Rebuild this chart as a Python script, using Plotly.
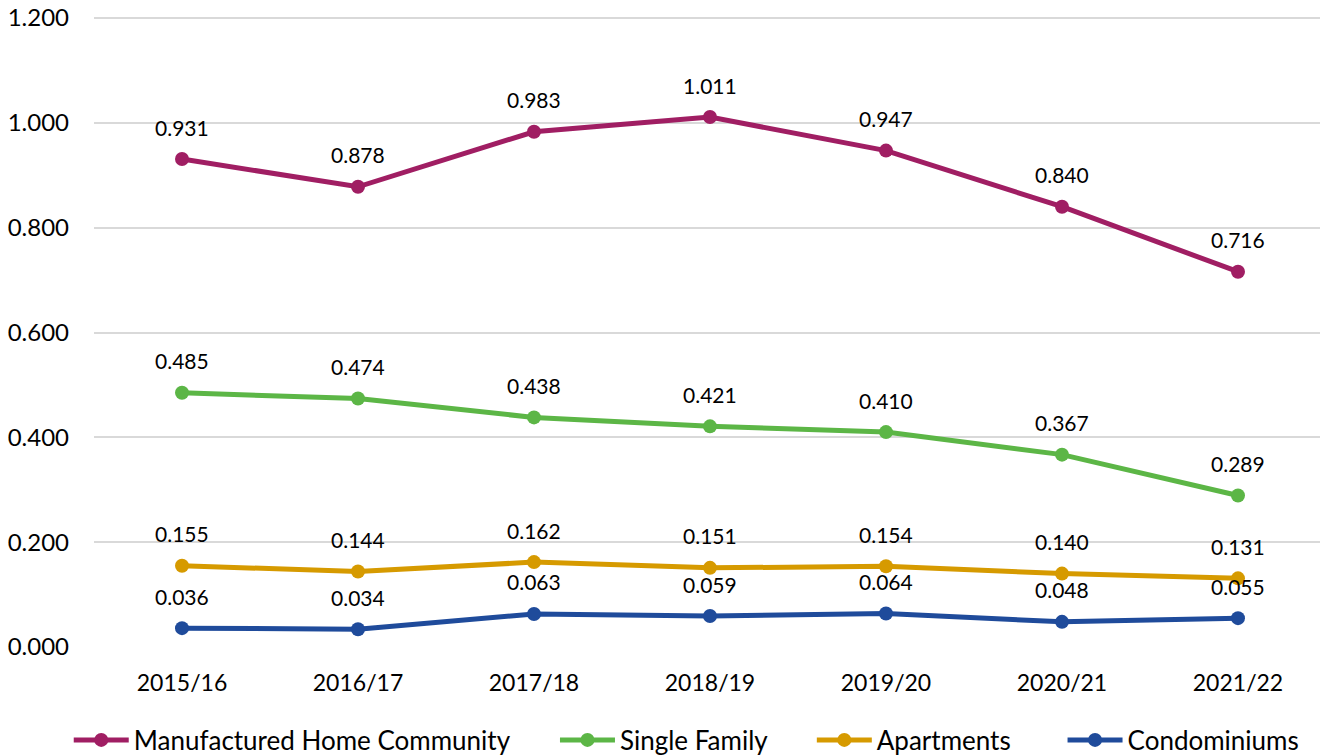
import plotly.graph_objects as go

years = ["2015/16", "2016/17", "2017/18", "2018/19", "2019/20", "2020/21", "2021/22"]
manufactured = [0.931, 0.878, 0.983, 1.011, 0.947, 0.840, 0.716]
single_family = [0.485, 0.474, 0.438, 0.421, 0.410, 0.367, 0.289]
apartments = [0.155, 0.144, 0.162, 0.151, 0.154, 0.140, 0.131]
condominiums = [0.036, 0.034, 0.063, 0.059, 0.064, 0.048, 0.055]
y_ticks = [0.0, 0.2, 0.4, 0.6, 0.8, 1.0, 1.2]

series = [
    ("Manufactured Home Community", manufactured, "#A01E63"),
    ("Single Family", single_family, "#5CB646"),
    ("Apartments", apartments, "#D69A00"),
    ("Condominiums", condominiums, "#1F4B9B"),
]
legend_ids = ["legend", "legend2", "legend3", "legend4"]
legend_x = [-0.0206, 0.376, 0.5855, 0.790]

FONT = "Lato"
fig = go.Figure()
annotations = []
for (name, vals, color), lid in zip(series, legend_ids):
    fig.add_trace(go.Scatter(
        x=years, y=vals, name=name, mode="lines+markers",
        line=dict(color=color, width=5),
        marker=dict(color=color, size=14),
        legend=lid,
    ))
    for x, v in zip(years, vals):
        annotations.append(dict(
            x=x, y=v, text=f"{v:.3f}", showarrow=False, yshift=32,
            font=dict(family=FONT, size=21, color="#000000"),
        ))

legend_layout = {}
for lid, lx in zip(legend_ids, legend_x):
    legend_layout[lid] = dict(
        orientation="h", x=lx, xanchor="left", y=-0.1467, yanchor="middle",
        font=dict(family=FONT, size=26, color="#000000"),
        itemwidth=55, bgcolor="rgba(0,0,0,0)",
    )

fig.update_layout(
    width=1320, height=755,
    margin=dict(l=94, r=0, t=13, b=108, autoexpand=False),
    paper_bgcolor="white", plot_bgcolor="white",
    font=dict(family=FONT, size=22, color="#000000"),
    annotations=annotations,
    showlegend=True,
    xaxis=dict(type="category", range=[-0.5, 6.466], showgrid=False, showline=False,
               zeroline=False, ticks="", ticklabelstandoff=20, automargin=False,
               tickfont=dict(family=FONT, size=23)),
    yaxis=dict(range=[0, 1.20954], tickvals=y_ticks,
               ticktext=[f"{t:.3f}" for t in y_ticks],
               showgrid=True, gridcolor="#D9D9D9", gridwidth=2, zeroline=False,
               showline=False, ticks="", ticklabelstandoff=24, automargin=False,
               ticklabeloverflow="allow",
               tickfont=dict(family=FONT, size=24)),
    **legend_layout,
)

fig.write_html("out.html", config={"displayModeBar": False},
               post_script="document.body.style.margin='0';")
